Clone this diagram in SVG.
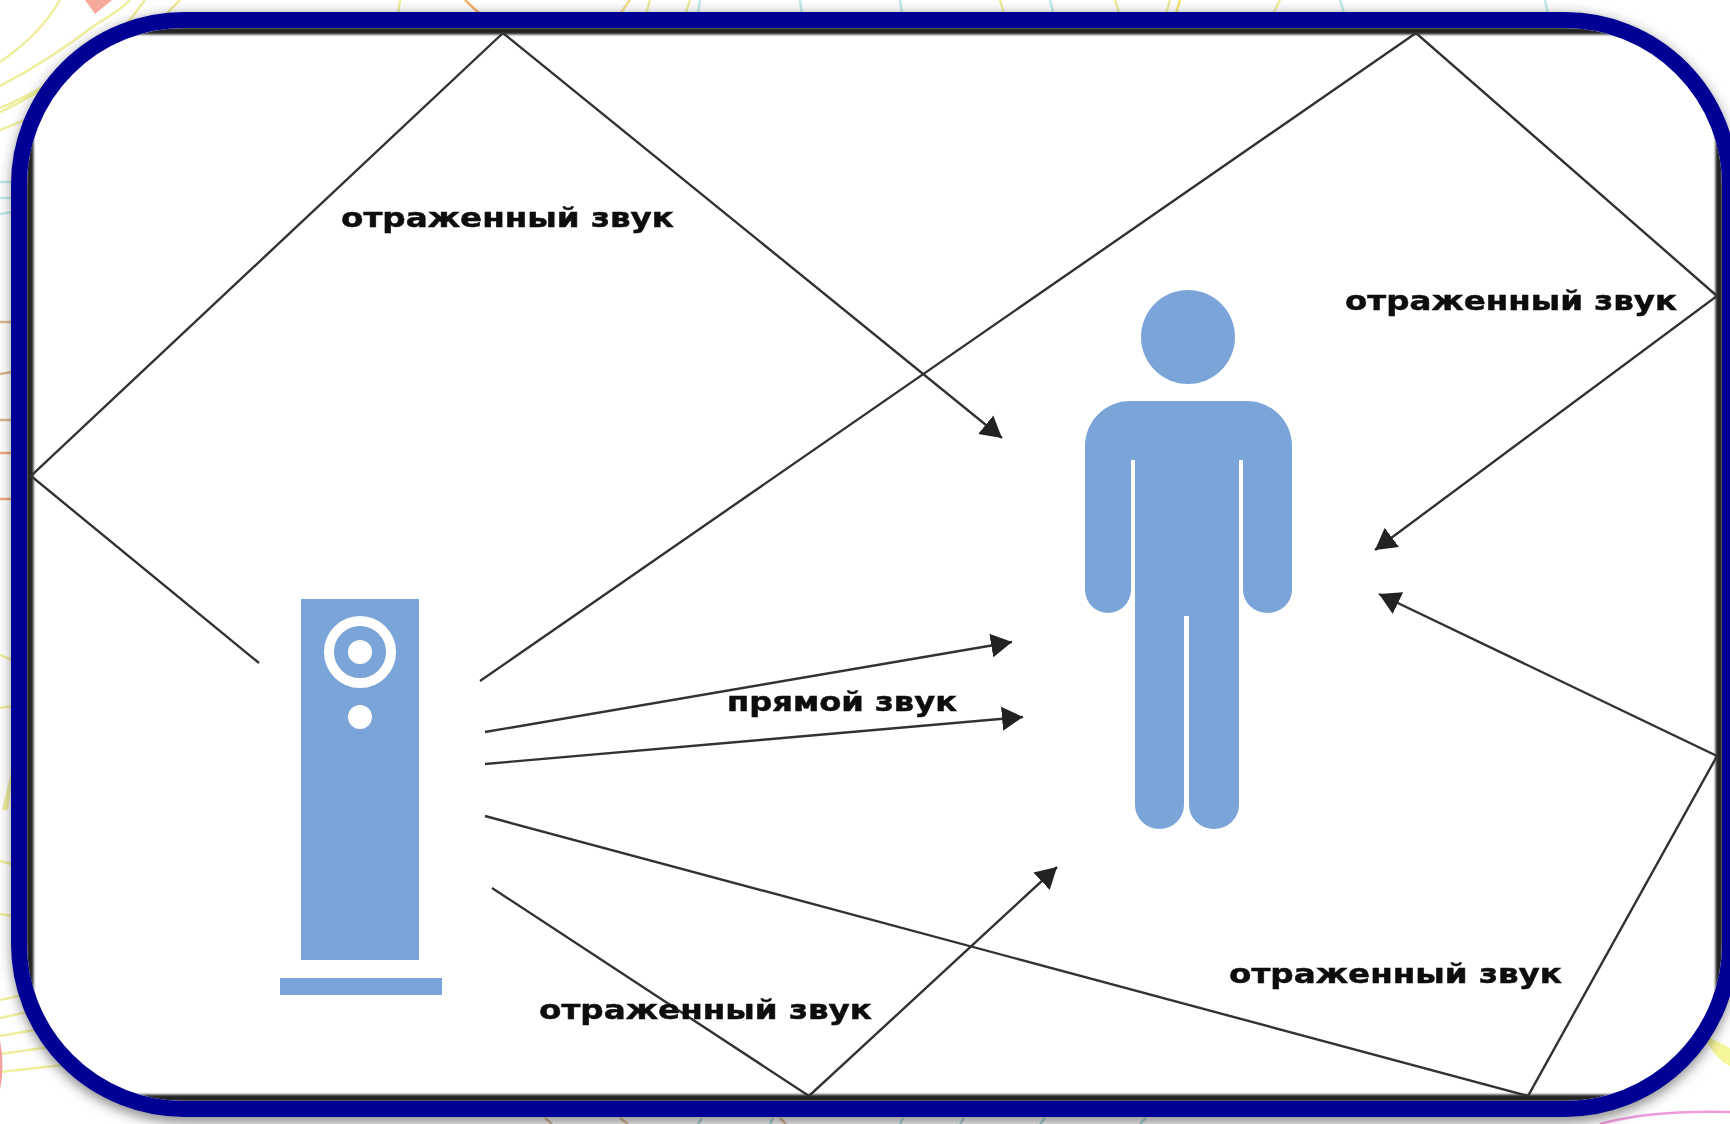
<svg xmlns="http://www.w3.org/2000/svg" width="1730" height="1124" viewBox="0 0 1730 1124">
<style>
.ray{fill:none;stroke:#333;stroke-width:2.4}
.arrow{marker-end:url(#head)}
.blue{fill:#7ba5d9}
.gap{fill:#fff}
.label{font-family:"DejaVu Sans",sans-serif;font-weight:700;font-size:27px;fill:#111;stroke:#111;stroke-width:0.5}
.deco{fill:none;stroke-width:2.5}
</style>
<defs>
<marker id="head" markerUnits="userSpaceOnUse" markerWidth="24" markerHeight="26" refX="21" refY="12" orient="auto" viewBox="0 0 24 24"><path d="M0 0L21 12L0 24Z" fill="#222"/></marker>
<filter id="shadow" x="-3%" y="-3%" width="106%" height="106%"><feGaussianBlur stdDeviation="6"/></filter>
<filter id="soft" x="-2%" y="-2%" width="104%" height="104%"><feGaussianBlur stdDeviation="0.8"/></filter>
<filter id="raster" filterUnits="userSpaceOnUse" x="0" y="0" width="1730" height="1124"><feGaussianBlur stdDeviation="0.55"/></filter>
<clipPath id="inner"><rect x="27" y="28" width="1695" height="1073" rx="157"/></clipPath>
</defs>
<rect width="1730" height="1124" fill="#fff"/>
<g id="background">
<g class="deco" stroke="#eeee9c">
<path d="M0 62Q40 35 60 0M0 86Q50 60 95 25Q120 10 130 0M0 112Q60 85 130 20L145 0M0 130Q40 115 60 100M0 108Q30 95 45 85M120 60Q145 35 180 0"/>
<path d="M400 0L395 35M650 0L640 35M690 0L680 30M1000 0L1010 35M1115 0L1125 30M1170 0L1160 35M1280 0L1265 30"/>
<path d="M0 655L12 660M0 708L12 706M0 861L12 864M0 914L12 916M0 1000L35 992M0 1018L60 1005M0 1036L80 1022M0 1054L100 1040M0 1072L90 1062"/>
</g>
<path d="M2 810L14 760L8 810Z" fill="#eeee9c"/>
<path d="M600 35Q620 15 630 0" class="deco" stroke="#f6dc8c" stroke-width="7"/>
<path d="M1180 0L1170 34" class="deco" stroke="#f2e56a" stroke-width="4"/>
<path d="M465 0Q485 20 510 34" class="deco" stroke="#f5b26c" stroke-width="11"/>
<path d="M85 0L95 14L112 0Z" fill="#f6a99a"/>
<g class="deco" stroke="#bfeaea">
<path d="M700 0L695 34M800 0L805 34M900 0L905 34M1340 0L1350 32M1545 0L1548 14M0 182L12 182M0 198L12 198M0 214L12 212M1050 0L1055 20"/>
</g>
<g class="deco" stroke="#d9b88f">
<path d="M0 322L12 322M0 374L12 372M0 420L12 420M545 1118L552 1124M620 1118L628 1124M780 1118L786 1124"/>
</g>
<g class="deco" stroke="#efa878"><path d="M0 453L12 453M0 499L12 499"/></g>
<g class="deco" stroke="#a8d8d8"><path d="M698 1124L702 1118M770 1124L773 1118M900 1124L903 1118M960 1124L964 1118M1040 1124L1045 1118M1140 1124L1146 1118"/></g>
<path d="M1600 1124Q1650 1110 1730 1112" class="deco" stroke="#ee9ade" stroke-width="4"/>
<path d="M1703 1034L1730 1048V1066Q1715 1060 1703 1034Z" fill="#f6f69a"/>
<path d="M0 1040Q5 1065 0 1090Z" fill="#f3a0a0"/>
</g>
<rect id="frame-shadow" x="19" y="22" width="1711" height="1093" rx="167" fill="none" stroke="#333" stroke-opacity="0.55" stroke-width="16" filter="url(#shadow)"/>
<g id="panel">
<rect x="19" y="20" width="1711" height="1089" rx="165" fill="#fff"/>
<g clip-path="url(#inner)"><rect x="30" y="31" width="1689" height="1067" fill="none" stroke="#222" stroke-width="7" filter="url(#soft)"/></g>
</g>
<g id="connectors" filter="url(#raster)">
<polyline class="ray arrow" points="259,663 31,476 503,33 1002,438"/>
<polyline class="ray arrow" points="480,681 1416,33 1717,296 1375,550"/>
<line class="ray arrow" x1="485" y1="732" x2="1012" y2="642"/>
<line class="ray arrow" x1="485" y1="764" x2="1023" y2="717"/>
<polyline class="ray arrow" points="485,816 1528,1096 1717,756 1379,594"/>
<polyline class="ray arrow" points="492,888 809,1096 1057,867"/>
</g>
<g id="speaker">
<rect class="blue" x="301" y="599" width="118" height="361"/>
<rect class="blue" x="280" y="978" width="162" height="17"/>
<circle cx="360" cy="652" r="31" fill="none" stroke="#fff" stroke-width="10"/>
<circle class="gap" cx="360" cy="652" r="12"/>
<circle class="gap" cx="360" cy="717" r="12"/>
</g>
<g id="person">
<circle class="blue" cx="1188" cy="337" r="47"/>
<path class="blue" d="M1130 401H1247A45 45 0 0 1 1292 446V590A24.500 23 0 0 1 1243 590V460H1239V805A25 24 0 0 1 1189 805V616H1184V805A24.500 24 0 0 1 1135 805V460H1131V590A23 23 0 0 1 1085 590V446A45 45 0 0 1 1130 401Z"/>
</g>
<g id="labels" filter="url(#raster)">
<text id="label-reflected-1" class="label" x="341" y="227" textLength="333" lengthAdjust="spacingAndGlyphs">отраженный звук</text>
<text id="label-reflected-2" class="label" x="1345" y="310" textLength="332" lengthAdjust="spacingAndGlyphs">отраженный звук</text>
<text id="label-reflected-3" class="label" x="1229" y="983" textLength="333" lengthAdjust="spacingAndGlyphs">отраженный звук</text>
<text id="label-reflected-4" class="label" x="539" y="1019" textLength="333" lengthAdjust="spacingAndGlyphs">отраженный звук</text>
<text id="label-direct" class="label" x="727" y="711" textLength="230" lengthAdjust="spacingAndGlyphs">прямой звук</text>
</g>
<rect id="frame" x="19" y="20" width="1711" height="1089" rx="165" fill="none" stroke="#000094" stroke-width="16"/>
</svg>
